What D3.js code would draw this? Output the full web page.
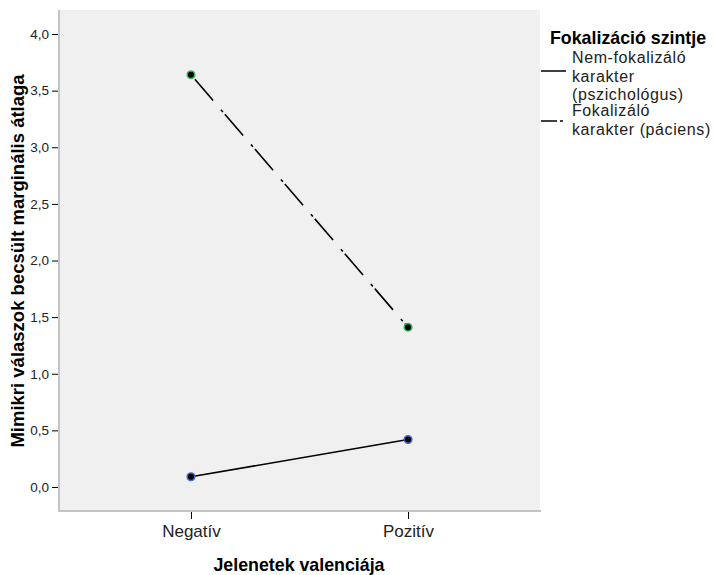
<!DOCTYPE html>
<html><head><meta charset="utf-8">
<script src="https://cdn.jsdelivr.net/npm/d3@7"></script>
<style>body{margin:0;background:#fff;} svg{display:block;font-family:"Liberation Sans",Arial,sans-serif;}</style>
</head><body>
<svg id="c" width="714" height="575"></svg>
<script>
const categories = ["Negatív", "Pozitív"];
const seriesNames = ["Nem-fokalizáló karakter (pszichológus)", "Fokalizáló karakter (páciens)"];
const nemFokalizalo = [0.09, 0.42];
const fokalizalo = [3.64, 1.41];
const yTicks = [0, 0.5, 1, 1.5, 2, 2.5, 3, 3.5, 4];

const svg = d3.select("#c");
const L = 59, R = 540, T = 10, B = 511;

const x = d3.scalePoint().domain(categories).range([L, R]).padding(0.608);
const y = d3.scaleLinear().domain([-0.212, 4.212]).range([B, T]);

svg.append("rect").attr("x", L).attr("y", T).attr("width", R - L).attr("height", B - T).attr("fill", "#f0f0f0");
svg.append("line").attr("x1", L).attr("x2", L).attr("y1", T).attr("y2", B + 1).attr("stroke", "#c4c4c4").attr("stroke-width", 2);
svg.append("line").attr("x1", L).attr("x2", R + 1).attr("y1", B).attr("y2", B).attr("stroke", "#c4c4c4").attr("stroke-width", 2);

const fmt = d => d.toFixed(1).replace(".", ",");
const yAxis = svg.append("g").attr("transform", `translate(${L - 1},0)`)
  .call(d3.axisLeft(y).tickValues(yTicks).tickFormat(fmt).tickSize(6).tickPadding(3));
yAxis.select(".domain").remove();
yAxis.selectAll("line").attr("stroke", "#000");
yAxis.selectAll("text").attr("font-size", 13.5).attr("fill", "#222").attr("font-family", "Liberation Sans, Arial, sans-serif");

const xAxis = svg.append("g").attr("transform", `translate(0,${B + 1})`)
  .call(d3.axisBottom(x).tickSize(7).tickPadding(6));
xAxis.select(".domain").remove();
xAxis.selectAll("line").attr("stroke", "#000");
xAxis.selectAll("text").attr("font-size", 17).attr("fill", "#222").attr("font-family", "Liberation Sans, Arial, sans-serif");

svg.append("text").attr("x", 299).attr("y", 571).attr("text-anchor", "middle")
  .attr("font-size", 17.8).attr("font-weight", "bold").text("Jelenetek valenciája");
svg.append("text").attr("transform", `translate(24,261) rotate(-90)`).attr("text-anchor", "middle")
  .attr("font-size", 18.5).attr("font-weight", "bold").text("Mimikri válaszok becsült marginális átlaga");

const line = d3.line().x((d, i) => x(categories[i])).y(d => y(d));
const dash = "3,3,28,12";
svg.append("path").datum(nemFokalizalo).attr("d", line).attr("fill", "none").attr("stroke", "#000").attr("stroke-width", 1.6);
svg.append("path").datum(fokalizalo).attr("d", line).attr("fill", "none").attr("stroke", "#000").attr("stroke-width", 1.6).attr("stroke-dasharray", dash);

svg.selectAll(".p1").data(nemFokalizalo).enter().append("circle")
  .attr("cx", (d, i) => x(categories[i])).attr("cy", d => y(d)).attr("r", 3.8)
  .attr("fill", "#000").attr("stroke", "#4466cc").attr("stroke-width", 1.5);
svg.selectAll(".p2").data(fokalizalo).enter().append("circle")
  .attr("cx", (d, i) => x(categories[i])).attr("cy", d => y(d)).attr("r", 3.8)
  .attr("fill", "#000").attr("stroke", "#33bb55").attr("stroke-width", 1.5);

// legend
const lg = svg.append("g");
lg.append("text").attr("x", 550).attr("y", 44).attr("font-size", 17.8).attr("font-weight", "bold").text("Fokalizáció szintje");
const items = [
  {lines: ["Nem-fokalizáló", "karakter", "(pszichológus)"], y0: 63, ly: 71, dash: null},
  {lines: ["Fokalizáló", "karakter (páciens)"], y0: 116, ly: 121, dash: "16,3,3,20"}
];
items.forEach(it => {
  it.lines.forEach((s, i) => lg.append("text").attr("x", 572).attr("y", it.y0 + i * 18.5)
    .attr("font-size", 16).attr("letter-spacing", "0.6px").attr("fill", "#222").text(s));
  lg.append("line").attr("x1", 541).attr("x2", 566).attr("y1", it.ly).attr("y2", it.ly)
    .attr("stroke", "#000").attr("stroke-width", 1.5).attr("stroke-dasharray", it.dash);
});
</script>
</body></html>
